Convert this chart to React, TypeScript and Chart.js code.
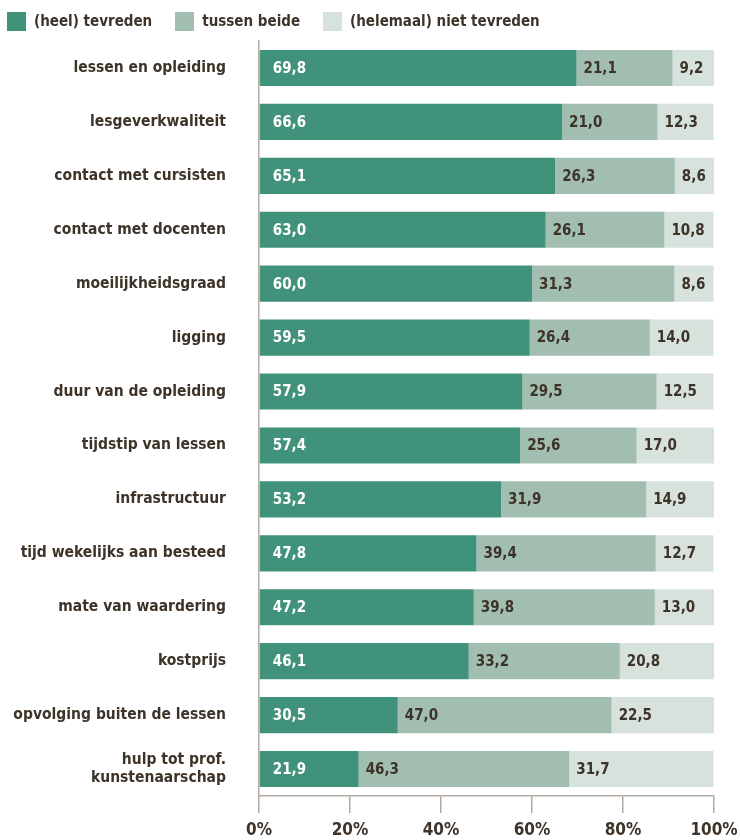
import React, { useEffect, useRef } from "react";
import { Chart, registerables } from "chart.js";

Chart.register(...registerables);

const categories: (string | string[])[] = [
  "lessen en opleiding",
  "lesgeverkwaliteit",
  "contact met cursisten",
  "contact met docenten",
  "moeilijkheidsgraad",
  "ligging",
  "duur van de opleiding",
  "tijdstip van lessen",
  "infrastructuur",
  "tijd wekelijks aan besteed",
  "mate van waardering",
  "kostprijs",
  "opvolging buiten de lessen",
  ["hulp tot prof.", "kunstenaarschap"],
];

const tevreden = [69.8, 66.6, 65.1, 63.0, 60.0, 59.5, 57.9, 57.4, 53.2, 47.8, 47.2, 46.1, 30.5, 21.9];
const tussenBeide = [21.1, 21.0, 26.3, 26.1, 31.3, 26.4, 29.5, 25.6, 31.9, 39.4, 39.8, 33.2, 47.0, 46.3];
const nietTevreden = [9.2, 12.3, 8.6, 10.8, 8.6, 14.0, 12.5, 17.0, 14.9, 12.7, 13.0, 20.8, 22.5, 31.7];

const seriesNames = ["(heel) tevreden", "tussen beide", "(helemaal) niet tevreden"];
const tickValues = [0, 20, 40, 60, 80, 100];

const COLORS = ["#40937a", "#a1beb1", "#d7e2dc"];
const TEXT = "#3d3328";
const AXIS = "#b3aaa2";
const FONT = "'DejaVu Sans Condensed', sans-serif";

const labelPlugin = {
  id: "segLabels",
  afterDatasetsDraw(chart: any) {
    const ctx = chart.ctx;
    ctx.save();
    ctx.font = `bold 15px ${FONT}`;
    ctx.textBaseline = "middle";
    ctx.textAlign = "left";
    chart.data.datasets.forEach((ds: any, di: number) => {
      const meta = chart.getDatasetMeta(di);
      meta.data.forEach((bar: any, i: number) => {
        const v = ds.data[i] as number;
        const left = Math.min(bar.base, bar.x);
        ctx.fillStyle = di === 0 ? "#ffffff" : TEXT;
        ctx.fillText(v.toFixed(1).replace(".", ","), left + (di === 0 ? 13 : 7), bar.y + 1);
      });
    });
    ctx.restore();
  },
};

export default function App() {
  const ref = useRef<HTMLCanvasElement>(null);
  useEffect(() => {
    document.body.style.margin = "0";
    const chart = new Chart(ref.current!, {
      type: "bar",
      data: {
        labels: categories,
        datasets: [tevreden, tussenBeide, nietTevreden].map((d, i) => ({
          label: seriesNames[i],
          data: d,
          backgroundColor: COLORS[i],
          borderWidth: 0,
          categoryPercentage: 1,
          barPercentage: 0.67,
        })),
      },
      options: {
        indexAxis: "y",
        animation: false,
        responsive: true,
        maintainAspectRatio: false,
        layout: { padding: { left: 0, right: 26, top: 41, bottom: 0 } },
        plugins: {
          legend: { display: false },
          tooltip: { enabled: false },
        },
        scales: {
          x: {
            stacked: true,
            min: 0,
            max: 100,
            afterBuildTicks: (s: any) => {
              s.ticks = tickValues.map((v) => ({ value: v }));
            },
            afterFit: (s: any) => {
              s.height = 44;
              s.paddingLeft = 0;
              s.paddingRight = 0;
            },
            grid: {
              display: true,
              drawOnChartArea: false,
              drawTicks: true,
              tickLength: 17,
              color: AXIS,
              lineWidth: 1.5,
            },
            border: { display: true, color: AXIS, width: 1.5 },
            ticks: {
              padding: 7,
              color: TEXT,
              font: { family: FONT, size: 17, weight: "bold" },
              callback: (v: any) => `${v}%`,
            },
          },
          y: {
            stacked: true,
            afterFit: (s: any) => {
              s.width = 259;
              s.paddingTop = 0;
              s.paddingBottom = 0;
            },
            grid: { display: false, drawTicks: false },
            border: { display: true, color: AXIS, width: 1.5 },
            ticks: {
              padding: 33,
              color: TEXT,
              font: { family: FONT, size: 15.5, weight: "bold" },
            },
          },
        },
      },
      plugins: [labelPlugin],
    });
    return () => chart.destroy();
  }, []);
  return (
    <div style={{ position: "relative", width: 740, height: 840 }}>
      <canvas ref={ref} />
      <div
        style={{
          position: "absolute",
          top: 12,
          left: 7,
          display: "flex",
          gap: 23,
          alignItems: "center",
          whiteSpace: "nowrap",
        }}
      >
        {seriesNames.map((name, i) => (
          <div key={name} style={{ display: "flex", alignItems: "center", height: 19 }}>
            <span
              style={{
                display: "inline-block",
                width: 19,
                height: 19,
                background: COLORS[i],
                marginRight: 8,
              }}
            />
            <span
              style={{
                fontFamily: FONT,
                fontWeight: "bold",
                fontSize: 15,
                color: TEXT,
                lineHeight: "19px",
              }}
            >
              {name}
            </span>
          </div>
        ))}
      </div>
    </div>
  );
}
